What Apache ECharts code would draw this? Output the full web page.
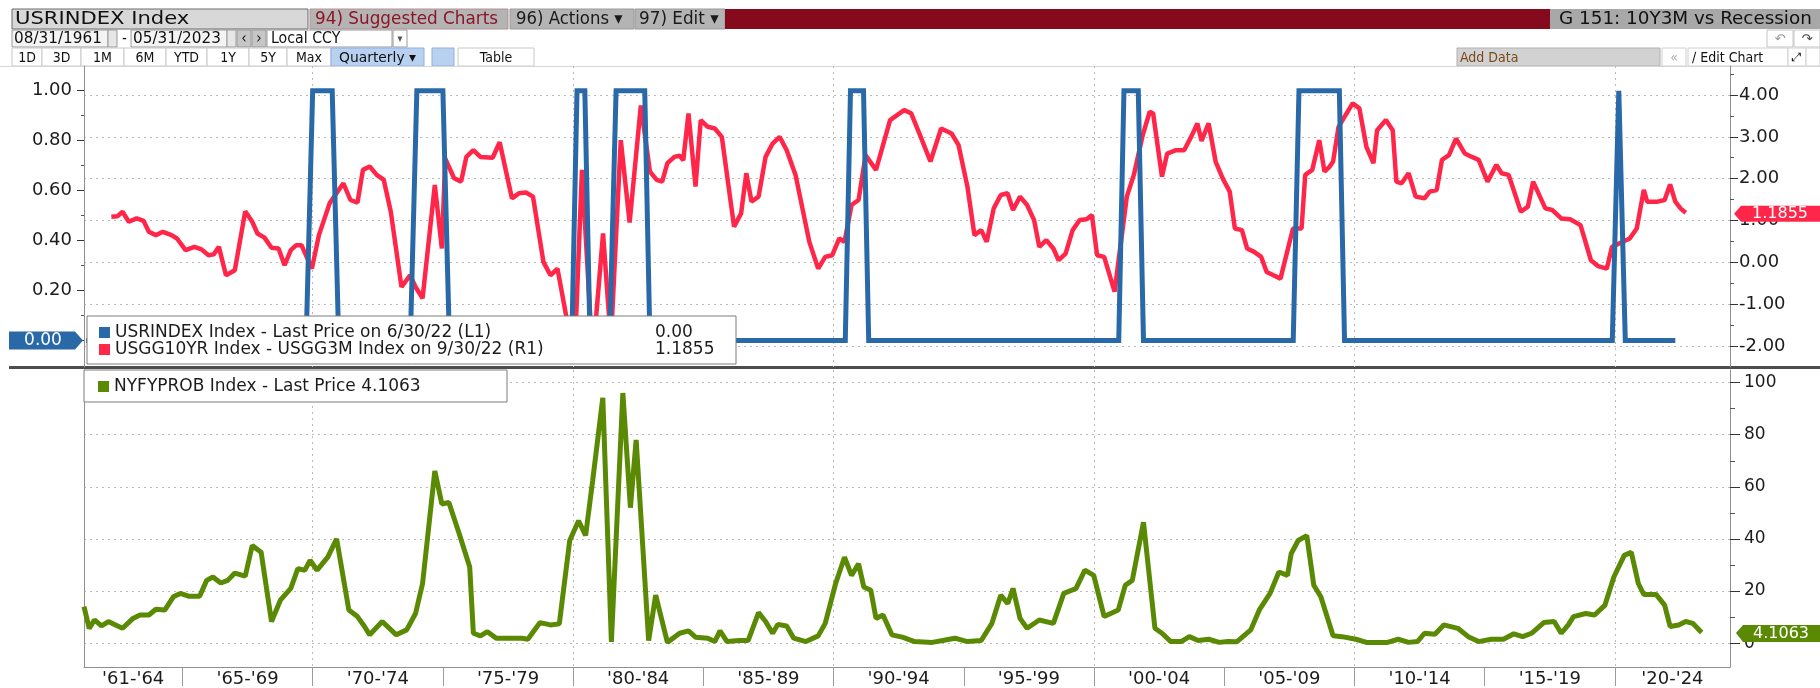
<!DOCTYPE html>
<html>
<head>
<meta charset="utf-8">
<title>G 151: 10Y3M vs Recession</title>
<script src="https://cdn.jsdelivr.net/npm/echarts@6/dist/echarts.min.js"></script>
<style>
  html, body { margin: 0; padding: 0; background: #fff; }
  #chart { width: 1820px; height: 688px; }
</style>
</head>
<body>
<div id="chart"></div>
<script>
// values, x = decimal year (quarter ends)
const recession = [
  [1961.3, 0], [1969.75, 0], [1970.0, 1], [1970.75, 1], [1971.0, 0],
  [1973.75, 0], [1974.0, 1], [1975.0, 1], [1975.25, 0],
  [1979.95, 0], [1980.15, 1], [1980.45, 1], [1980.65, 0],
  [1981.4, 0], [1981.65, 1], [1982.75, 1], [1982.95, 0],
  [1990.45, 0], [1990.65, 1], [1991.15, 1], [1991.35, 0],
  [2000.95, 0], [2001.15, 1], [2001.7, 1], [2001.9, 0],
  [2007.65, 0], [2007.87, 1], [2009.42, 1], [2009.62, 0],
  [2019.9, 0], [2020.15, 1], [2020.4, 0], [2022.32, 0]
];

const spread = [
  [1962.27, 1.09], [1962.50, 1.10], [1962.70, 1.21], [1962.94, 0.97], [1963.24, 1.05], [1963.51, 0.99],
  [1963.71, 0.73], [1963.98, 0.65], [1964.25, 0.73], [1964.58, 0.65], [1964.79, 0.57], [1965.12, 0.29],
  [1965.46, 0.37], [1965.73, 0.31], [1966.00, 0.17], [1966.20, 0.19], [1966.40, 0.37], [1966.67, -0.31],
  [1967.01, -0.19], [1967.41, 1.22], [1967.68, 0.97], [1967.88, 0.69], [1968.15, 0.59], [1968.42, 0.35],
  [1968.69, 0.33], [1968.92, -0.07], [1969.16, 0.29], [1969.37, 0.41], [1969.57, 0.41], [1969.97, -0.15],
  [1970.24, 0.65], [1970.65, 1.41], [1971.18, 1.89], [1971.45, 1.49], [1971.72, 1.43], [1971.93, 2.21],
  [1972.19, 2.29], [1972.46, 2.09], [1972.73, 1.97], [1973.00, 1.21], [1973.41, -0.59], [1973.74, -0.31],
  [1973.95, -0.59], [1974.22, -0.86], [1974.69, 1.85], [1974.96, 0.33], [1975.09, 2.48], [1975.43, 2.01],
  [1975.70, 1.93], [1975.90, 2.52], [1976.17, 2.68], [1976.44, 2.52], [1976.91, 2.50], [1977.18, 2.87],
  [1977.65, 1.53], [1977.92, 1.65], [1978.19, 1.67], [1978.46, 1.57], [1978.86, 0.01], [1979.13, -0.31],
  [1979.40, -0.15], [1980.05, -2.35], [1980.34, 2.21], [1980.75, -2.30], [1981.15, 0.69], [1981.45, -1.90],
  [1981.83, 2.92], [1982.17, 0.95], [1982.60, 3.75], [1982.95, 2.17], [1983.21, 1.97], [1983.42, 1.93],
  [1983.62, 2.37], [1983.89, 2.52], [1984.09, 2.55], [1984.23, 2.44], [1984.43, 3.56], [1984.70, 1.81],
  [1984.90, 3.40], [1985.17, 3.24], [1985.44, 3.20], [1985.71, 3.00], [1986.18, 0.85], [1986.45, 1.17],
  [1986.65, 2.13], [1986.85, 1.45], [1987.12, 1.57], [1987.39, 2.52], [1987.66, 2.84], [1987.93, 3.00],
  [1988.20, 2.68], [1988.54, 2.09], [1989.07, 0.49], [1989.41, -0.15], [1989.68, 0.13], [1989.95, 0.17],
  [1990.22, 0.57], [1990.42, 0.49], [1990.69, 1.37], [1990.96, 1.49], [1991.23, 2.56], [1991.63, 2.21],
  [1992.17, 3.40], [1992.71, 3.64], [1992.98, 3.56], [1993.32, 3.04], [1993.72, 2.41], [1994.13, 3.20],
  [1994.53, 3.08], [1994.80, 2.80], [1995.14, 1.81], [1995.41, 0.65], [1995.67, 0.77], [1995.88, 0.49],
  [1996.15, 1.29], [1996.42, 1.61], [1996.68, 1.65], [1996.89, 1.25], [1997.16, 1.57], [1997.43, 1.37],
  [1997.70, 1.01], [1997.90, 0.37], [1998.17, 0.53], [1998.44, 0.33], [1998.64, 0.05], [1998.91, 0.21],
  [1999.18, 0.77], [1999.45, 1.01], [1999.72, 1.03], [1999.92, 1.13], [2000.12, 0.17], [2000.39, 0.13],
  [2000.79, -0.70], [2001.26, 1.57], [2001.53, 2.09], [2001.87, 3.04], [2002.14, 3.60], [2002.27, 3.56],
  [2002.61, 2.05], [2002.81, 2.60], [2003.15, 2.68], [2003.46, 2.68], [2003.73, 3.00], [2003.97, 3.32],
  [2004.13, 2.90], [2004.40, 3.32], [2004.67, 2.41], [2004.94, 2.01], [2005.21, 1.69], [2005.41, 0.81],
  [2005.68, 0.77], [2005.88, 0.33], [2006.15, 0.25], [2006.42, 0.13], [2006.63, -0.23], [2006.89, -0.31],
  [2007.16, -0.39], [2007.64, 0.81], [2007.97, 0.81], [2008.11, 2.09], [2008.38, 2.21], [2008.65, 2.92],
  [2008.85, 2.17], [2009.05, 2.29], [2009.18, 2.41], [2009.39, 3.24], [2009.93, 3.80], [2010.19, 3.68],
  [2010.46, 2.76], [2010.73, 2.37], [2010.87, 3.16], [2011.21, 3.40], [2011.47, 3.16], [2011.61, 1.93],
  [2011.81, 1.89], [2012.08, 2.13], [2012.35, 1.57], [2012.69, 1.53], [2012.89, 1.69], [2013.16, 1.73],
  [2013.36, 2.45], [2013.63, 2.56], [2013.90, 2.96], [2014.24, 2.60], [2014.51, 2.52], [2014.77, 2.45],
  [2015.11, 1.93], [2015.45, 2.33], [2015.65, 2.13], [2015.92, 2.09], [2016.39, 1.21], [2016.66, 1.33],
  [2016.86, 1.93], [2017.33, 1.29], [2017.60, 1.25], [2017.94, 1.05], [2018.28, 1.03], [2018.68, 0.89],
  [2019.08, 0.05], [2019.35, -0.09], [2019.69, -0.15], [2019.89, 0.37], [2020.30, 0.49], [2020.57, 0.57],
  [2020.84, 0.81], [2021.11, 1.73], [2021.24, 1.45], [2021.64, 1.45], [2021.91, 1.49], [2022.12, 1.86],
  [2022.32, 1.45], [2022.52, 1.29], [2022.72, 1.1855]
];

const prob = [
  [1961.22, 14.0], [1961.42, 5.7], [1961.62, 8.9], [1961.89, 6.6], [1962.16, 8.3], [1962.43, 7.0],
  [1962.70, 5.7], [1963.10, 9.5], [1963.37, 10.8], [1963.71, 10.8], [1963.98, 13.0], [1964.32, 12.7],
  [1964.65, 17.8], [1964.92, 19.1], [1965.26, 18.0], [1965.66, 18.0], [1965.93, 24.1], [1966.17, 25.4],
  [1966.47, 23.1], [1966.74, 24.1], [1967.01, 26.9], [1967.41, 25.7], [1967.68, 37.5], [1968.02, 34.9],
  [1968.42, 8.3], [1968.76, 16.5], [1969.16, 21.0], [1969.43, 28.6], [1969.70, 28.0], [1969.90, 31.8],
  [1970.17, 28.0], [1970.58, 33.0], [1970.92, 40.0], [1971.39, 12.7], [1971.72, 10.2], [1971.99, 6.4],
  [1972.19, 3.2], [1972.67, 8.3], [1973.21, 3.2], [1973.61, 5.1], [1973.95, 11.4], [1974.22, 22.9],
  [1974.69, 66.1], [1974.96, 53.4], [1975.23, 54.0], [1975.63, 41.9], [1976.03, 29.2], [1976.17, 3.8],
  [1976.44, 2.8], [1976.71, 4.4], [1977.05, 1.9], [1977.51, 1.9], [1978.05, 1.9], [1978.26, 1.5],
  [1978.73, 7.9], [1979.13, 7.0], [1979.47, 7.4], [1979.87, 39.4], [1980.21, 47.0], [1980.48, 41.3],
  [1980.75, 62.3], [1981.14, 94.2], [1981.47, 0.5], [1981.91, 96.0], [1982.20, 52.0], [1982.42, 78.0],
  [1982.90, 1.0], [1983.17, 18.4], [1983.62, 0.3], [1984.09, 3.8], [1984.43, 4.7], [1984.70, 2.3],
  [1985.17, 1.9], [1985.44, 0.6], [1985.64, 4.7], [1985.91, 0.6], [1986.38, 1.0], [1986.72, 1.0],
  [1987.12, 11.7], [1987.39, 8.3], [1987.66, 3.8], [1987.86, 7.2], [1988.20, 6.6], [1988.47, 1.9],
  [1988.94, 0.6], [1989.41, 2.8], [1989.68, 7.6], [1990.08, 22.9], [1990.42, 33.0], [1990.69, 26.0],
  [1990.96, 30.5], [1991.16, 21.6], [1991.43, 20.3], [1991.63, 9.5], [1991.90, 10.8], [1992.24, 3.2],
  [1992.64, 2.3], [1993.11, 0.6], [1993.79, 0.3], [1994.19, 1.0], [1994.66, 1.9], [1995.14, 0.6],
  [1995.67, 1.0], [1996.08, 7.6], [1996.42, 18.4], [1996.69, 15.2], [1996.89, 21.0], [1997.16, 9.5],
  [1997.43, 5.7], [1997.90, 8.9], [1998.44, 7.6], [1998.84, 19.1], [1999.31, 21.0], [1999.65, 28.0],
  [1999.99, 26.0], [2000.39, 10.2], [2000.93, 12.7], [2001.20, 22.2], [2001.47, 24.1], [2001.90, 46.4],
  [2002.34, 5.7], [2002.61, 3.8], [2002.95, 0.6], [2003.35, 0.6], [2003.66, 2.5], [2004.00, 1.0],
  [2004.40, 1.5], [2004.81, 0.3], [2005.14, 0.6], [2005.48, 0.5], [2006.02, 5.1], [2006.36, 13.0],
  [2006.76, 19.1], [2007.10, 27.3], [2007.43, 26.0], [2007.57, 34.3], [2007.84, 39.4], [2008.17, 41.3],
  [2008.44, 22.2], [2008.71, 17.8], [2009.18, 2.8], [2009.52, 2.5], [2010.06, 1.5], [2010.46, 0.3],
  [2011.27, 0.3], [2011.68, 1.5], [2012.08, 0.3], [2012.42, 0.6], [2012.69, 3.8], [2013.09, 3.4],
  [2013.43, 7.0], [2013.97, 5.7], [2014.37, 2.5], [2014.77, 0.6], [2015.25, 1.5], [2015.72, 1.5],
  [2016.12, 3.6], [2016.46, 2.5], [2016.80, 3.8], [2017.27, 7.9], [2017.67, 8.3], [2017.94, 3.8],
  [2018.21, 7.0], [2018.41, 10.2], [2018.88, 11.4], [2019.22, 10.8], [2019.62, 14.6], [2019.96, 25.4],
  [2020.36, 33.7], [2020.63, 34.9], [2020.90, 22.9], [2021.11, 18.7], [2021.58, 18.7], [2021.91, 14.6],
  [2022.12, 6.4], [2022.45, 7.0], [2022.72, 8.3], [2022.99, 7.6], [2023.33, 4.1063]
];

const periodStarts = [1961, 1965, 1970, 1975, 1980, 1985, 1990, 1995, 2000, 2005, 2010, 2015, 2020, 2025];
const periodLabels = ["'61-'64", "'65-'69", "'70-'74", "'75-'79", "'80-'84", "'85-'89", "'90-'94",
                      "'95-'99", "'00-'04", "'05-'09", "'10-'14", "'15-'19", "'20-'24"];
const decadeLines = [1970, 1980, 1990, 2000, 2010, 2020];

const leftTicks = [0, 0.2, 0.4, 0.6, 0.8, 1.0];
const leftLabels = [0.2, 0.4, 0.6, 0.8, 1.0];
const leftMinor = [0.1, 0.3, 0.5, 0.7, 0.9];
const rightTicks = [-2, -1, 0, 1, 2, 3, 4];
const rightMinor = [-1.5, -0.5, 0.5, 1.5, 2.5, 3.5, 4.5];
const probTicks = [0, 20, 40, 60, 80, 100];
const probMinor = [10, 30, 50, 70, 90];

const lastRecession = 0.00;
const lastSpread = 1.1855;
const lastProb = 4.1063;

const legendTop = {
  'USRINDEX Index': ['USRINDEX Index - Last Price on 6/30/22 (L1)', lastRecession.toFixed(2)],
  'USGG10YR Index - USGG3M Index': ['USGG10YR Index - USGG3M Index on 9/30/22 (R1)', lastSpread.toFixed(4)]
};

// axis extents so that the panels line up like the terminal screenshot
const xMin = 1961.22, xMax = 2024.42;

const BLUE = '#2a69a7', RED = '#ff2649', GREEN = '#5a8904';
const SANS = '"DejaVu Sans", Verdana, sans-serif';
const NARROW = '"DejaVu Sans Condensed", "Liberation Sans Narrow", "Liberation Sans", sans-serif';
const AXIS = '#8f8f8f', DOTS = '#b9b9b9', INK = '#1c1c1c';

// label positions: middle of each period, clipped to the axis
const periodMids = periodLabels.map(function (l, i) {
  const a = Math.max(periodStarts[i], xMin), b = Math.min(periodStarts[i + 1], xMax);
  return (a + b) / 2;
});

function periodName(v) {
  let best = 0;
  periodMids.forEach(function (m, i) { if (Math.abs(m - v) < Math.abs(periodMids[best] - v)) best = i; });
  return periodLabels[best];
}

// terminal toolbar above the chart; the terminal font renders wide, hence the stretch
function box(x, y, w, h, fill, stroke, text, color, font, textX, stretch, centre) {
  const els = [{ type: 'rect', silent: true, shape: { x: x, y: y, width: w, height: h },
                 style: { fill: fill, stroke: stroke || null, lineWidth: 1 } }];
  if (text) {
    els.push({ type: 'text', silent: true,
      x: centre ? x + w / 2 : (textX != null ? textX : x + 4), y: y + h / 2 + 1,
      scaleX: stretch || 1,
      style: { x: 0, y: 0, text: text, fill: color || '#111',
               font: font || ('15px ' + NARROW), textVerticalAlign: 'middle',
               textAlign: centre ? 'center' : 'left' } });
  }
  return els;
}

const F1 = '17px ' + NARROW, F2 = '15px ' + NARROW, F3 = '14px ' + NARROW;

let toolbar = [];
toolbar = toolbar.concat(
  box(12, 9, 296, 20, '#d8d8d8', '#6a6a6a', 'USRINDEX Index', '#111', F1, 15, 1.38),
  box(310, 9, 198, 20, '#b4b4b4', '#b48f96', '94) Suggested Charts', '#8e1426', F1, 315, 1.1),
  box(510, 9, 124, 20, '#b4b4b4', '#9a9a9a', '96) Actions \u25BE', '#1a1a1a', F1, 516, 1.08),
  box(635, 9, 90, 20, '#b4b4b4', '#9a9a9a', '97) Edit \u25BE', '#1a1a1a', F1, 639, 1.1),
  box(725, 9, 825, 20, '#850a1b', null),
  box(1550, 9, 270, 20, '#a8a8a8', null, 'G 151: 10Y3M vs Recession', '#111', F1, 1559, 1.2),

  box(12, 30, 96, 17, '#f4f4f4', '#9a9a9a', '08/31/1961', '#111', F2, 14, 1.13),
  box(108, 30, 9, 17, '#e6e6e6', '#9a9a9a'),
  box(118, 30, 12, 17, '#fff', null, '-', '#111', F2),
  box(131, 30, 96, 17, '#f4f4f4', '#9a9a9a', '05/31/2023', '#111', F2, 133, 1.13),
  box(227, 30, 9, 17, '#e6e6e6', '#9a9a9a'),
  box(237, 30, 14, 17, '#c6c6c6', '#9a9a9a', '\u2039', '#111', F2, null, 1, true),
  box(252, 30, 14, 17, '#c6c6c6', '#9a9a9a', '\u203A', '#111', F2, null, 1, true),
  box(267, 30, 125, 17, '#fff', '#9a9a9a', 'Local CCY', '#111', F2, 271, 1.05),
  box(393, 30, 14, 17, '#fff', '#9a9a9a', '\u25BE', '#555', '11px ' + NARROW, null, 1, true),
  box(1767, 30, 26, 17, '#fff', '#c4c4c4', '\u21B6', '#999', '13px ' + SANS, null, 1, true),
  box(1794, 30, 26, 17, '#fff', '#c4c4c4', '\u21B7', '#444', '13px ' + SANS, null, 1, true)
);

const rangeButtons = [['1D', 12, 30], ['3D', 42, 39], ['1M', 81, 43], ['6M', 124, 42], ['YTD', 166, 41],
                      ['1Y', 207, 42], ['5Y', 249, 38], ['Max', 287, 44]];
rangeButtons.forEach(function (b) {
  toolbar = toolbar.concat(box(b[1], 48, b[2], 18, '#fff', '#c8c8c8', b[0], '#111', F3, null, 1, true));
});
toolbar = toolbar.concat(
  box(331, 48, 93, 18, '#b9d1f0', '#8fb0dc', 'Quarterly \u25BE', '#111', F3, null, 1.1, true),
  box(432, 48, 22, 18, '#b9d1f0', '#8fb0dc'),
  box(458, 48, 76, 18, '#fff', '#c8c8c8', 'Table', '#111', F3, null, 1, true),
  box(1457, 48, 203, 18, '#d2d2d2', '#b0b0b0', 'Add Data', '#7a4a1c', F3, 1460),
  box(1662, 48, 24, 18, '#fff', '#d0d0d0', '\u00AB', '#aaa', F3, null, 1, true),
  box(1688, 48, 100, 18, '#fff', '#d0d0d0', '\u2215 Edit Chart', '#111', F3, 1692),
  box(1788, 48, 18, 18, '#fff', '#d0d0d0', '\u2922', '#111', '12px ' + SANS, null, 1, true),
  box(1806, 48, 14, 18, '#fff', '#d0d0d0'),
  box(0, 66, 1820, 1, '#d6d6d6', null),
  // divider between the two panels
  box(9, 366, 1811, 3, '#4d4d4d', null)
);

const chart = echarts.init(document.getElementById('chart'));

const dotted = { color: DOTS, width: 1, type: [2, 4] };

const option = {
  backgroundColor: '#fff',
  animation: false,
  graphic: { elements: toolbar },
  grid: [
    { left: 84, top: 66, width: 1646, height: 301 },
    { left: 84, top: 370, width: 1646, height: 299 }
  ],
  legend: [
    {
      left: 87, top: 316, orient: 'vertical', selectedMode: false,
      data: ['USRINDEX Index', 'USGG10YR Index - USGG3M Index'],
      icon: 'rect', itemWidth: 11, itemHeight: 11, itemGap: 0,
      padding: [8, 11, 6, 12],
      backgroundColor: '#fff', borderColor: '#7d7d7d', borderWidth: 1,
      formatter: function (name) {
        return '{n|' + legendTop[name][0] + '}{v|' + legendTop[name][1] + '}';
      },
      textStyle: {
        fontFamily: SANS, fontSize: 17, color: INK, lineHeight: 17,
        rich: { n: { width: 540, fontFamily: SANS, fontSize: 17, color: INK },
                v: { width: 70, fontFamily: SANS, fontSize: 17, color: INK } }
      }
    },
    {
      left: 84, top: 370, orient: 'vertical', selectedMode: false,
      data: ['NYFYPROB Index'],
      icon: 'rect', itemWidth: 11, itemHeight: 11,
      padding: [8, 12, 7, 14],
      backgroundColor: '#fff', borderColor: '#7d7d7d', borderWidth: 1,
      formatter: function () {
        return '{n|NYFYPROB Index - Last Price ' + lastProb.toFixed(4) + '}';
      },
      textStyle: {
        fontFamily: SANS, fontSize: 17, color: INK, lineHeight: 17,
        rich: { n: { width: 381, fontFamily: SANS, fontSize: 17, color: INK } }
      }
    }
  ],
  xAxis: [
    { // top panel: decade grid lines only
      gridIndex: 0, type: 'value', min: xMin, max: xMax,
      axisLine: { show: false, onZero: false },
      axisTick: { show: false, customValues: decadeLines },
      axisLabel: { show: false },
      splitLine: { show: true, lineStyle: dotted }
    },
    { // bottom panel: decade grid lines
      gridIndex: 1, type: 'value', min: xMin, max: xMax,
      axisLine: { show: false, onZero: false },
      axisTick: { show: false, customValues: decadeLines },
      axisLabel: { show: false },
      splitLine: { show: true, lineStyle: dotted }
    },
    { // bottom panel: period separators and labels
      gridIndex: 1, type: 'value', min: xMin, max: xMax, position: 'bottom',
      axisLine: { show: true, onZero: false, lineStyle: { color: AXIS, width: 1 } },
      axisTick: { show: true, customValues: periodStarts.slice(1, -1), length: 19,
                  lineStyle: { color: '#9c9c9c', width: 1 } },
      axisLabel: { show: true, customValues: periodMids, formatter: periodName,
                   fontFamily: SANS, fontSize: 18, color: INK, margin: 3 },
      splitLine: { show: false }
    }
  ],
  yAxis: [
    { // L1: recession flag
      gridIndex: 0, type: 'value', position: 'left', min: -0.1061, max: 1.0989,
      axisLine: { show: true, lineStyle: { color: AXIS } },
      axisTick: { show: true, customValues: leftTicks, length: 7, lineStyle: { color: '#333' } },
      axisLabel: { show: true, customValues: leftLabels, margin: 12,
                   formatter: function (v) { return v.toFixed(2); },
                   fontFamily: SANS, fontSize: 18, color: INK },
      splitLine: { show: false }
    },
    { // R1: 10y - 3m spread
      gridIndex: 0, type: 'value', position: 'right', min: -2.502, max: 4.6932,
      axisLine: { show: true, lineStyle: { color: AXIS } },
      axisTick: { show: true, customValues: rightTicks, length: 8, lineStyle: { color: '#333' } },
      axisLabel: { show: true, customValues: rightTicks, margin: 9,
                   formatter: function (v) { return v.toFixed(2); },
                   fontFamily: SANS, fontSize: 18, color: INK },
      splitLine: { show: true, lineStyle: dotted }
    },
    { // left minor ticks
      gridIndex: 0, type: 'value', position: 'left', min: -0.1061, max: 1.0989,
      axisLine: { show: false }, axisLabel: { show: false }, splitLine: { show: false },
      axisTick: { show: true, customValues: leftMinor, length: 3, lineStyle: { color: '#555' } }
    },
    { // right minor ticks
      gridIndex: 0, type: 'value', position: 'right', min: -2.502, max: 4.6932,
      axisLine: { show: false }, axisLabel: { show: false }, splitLine: { show: false },
      axisTick: { show: true, customValues: rightMinor, length: 4, lineStyle: { color: '#555' } }
    },
    { // lower panel probability axis
      gridIndex: 1, type: 'value', position: 'right', min: -9.15, max: 104.84,
      axisLine: { show: true, lineStyle: { color: AXIS } },
      axisTick: { show: true, customValues: probTicks, length: 10, lineStyle: { color: '#333' } },
      axisLabel: { show: true, customValues: probTicks, margin: 14,
                   fontFamily: SANS, fontSize: 17, color: INK },
      splitLine: { show: true, lineStyle: dotted }
    },
    {
      gridIndex: 1, type: 'value', position: 'right', min: -9.15, max: 104.84,
      axisLine: { show: false }, axisLabel: { show: false }, splitLine: { show: false },
      axisTick: { show: true, customValues: probMinor, length: 5, lineStyle: { color: '#555' } }
    },
    { // lower panel left border
      gridIndex: 1, type: 'value', position: 'left', min: -9.15, max: 104.84,
      axisLine: { show: true, lineStyle: { color: AXIS } },
      axisTick: { show: false }, axisLabel: { show: false }, splitLine: { show: false }
    }
  ],
  series: [
    {
      name: 'USGG10YR Index - USGG3M Index', type: 'line',
      xAxisIndex: 0, yAxisIndex: 1, data: spread,
      showSymbol: false, symbol: 'none', clip: false,
      lineStyle: { color: RED, width: 4.5 }, itemStyle: { color: RED },
      markPoint: {
        symbol: 'path://M0,8L7,0H86V16H7Z', symbolSize: [86, 16], symbolOffset: [47, 1],
        itemStyle: { color: RED },
        label: { show: true, position: 'inside', offset: [3, 0], color: '#fff',
                 fontFamily: SANS, fontSize: 16,
                 formatter: function (p) { return p.value.toFixed(4); } },
        data: [{ coord: [xMax, lastSpread], value: lastSpread }]
      }
    },
    {
      name: 'USRINDEX Index', type: 'line',
      xAxisIndex: 0, yAxisIndex: 0, data: recession,
      showSymbol: false, symbol: 'none', clip: false,
      lineStyle: { color: BLUE, width: 5, join: 'miter' }, itemStyle: { color: BLUE },
      markPoint: {
        symbol: 'path://M0,0H66L74,9L66,18H0Z', symbolSize: [74, 18], symbolOffset: [-38, 0],
        itemStyle: { color: BLUE },
        label: { show: true, position: 'inside', offset: [-3, 0], color: '#fff',
                 fontFamily: SANS, fontSize: 17,
                 formatter: function (p) { return p.value.toFixed(2); } },
        data: [{ coord: [xMin, lastRecession], value: lastRecession }]
      }
    },
    {
      name: 'NYFYPROB Index', type: 'line',
      xAxisIndex: 2, yAxisIndex: 4, data: prob,
      showSymbol: false, symbol: 'none', clip: false,
      lineStyle: { color: GREEN, width: 5 }, itemStyle: { color: GREEN },
      markPoint: {
        symbol: 'path://M0,8L7,0H84V17H7Z', symbolSize: [84, 17], symbolOffset: [48, 1],
        itemStyle: { color: GREEN },
        label: { show: true, position: 'inside', offset: [3, 0], color: '#fff',
                 fontFamily: SANS, fontSize: 16,
                 formatter: function (p) { return p.value.toFixed(4); } },
        data: [{ coord: [xMax, lastProb], value: lastProb }]
      }
    }
  ]
};

chart.setOption(option);
</script>
</body>
</html>
